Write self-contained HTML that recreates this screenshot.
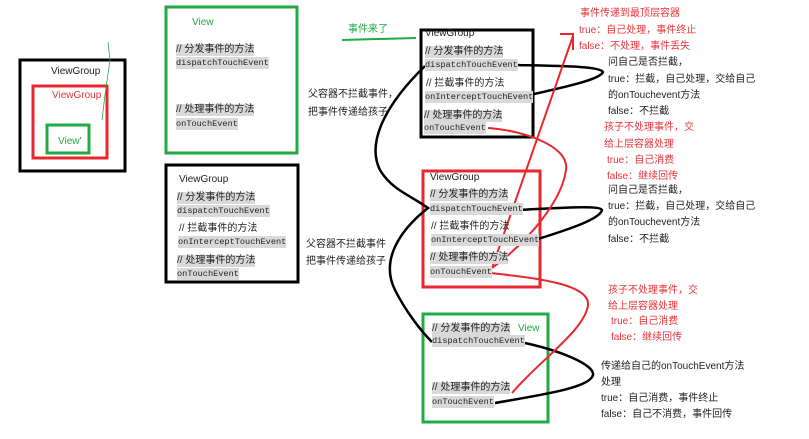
<!DOCTYPE html>
<html><head><meta charset="utf-8"><style>
body{margin:0;width:809px;height:439px;background:#fff;position:relative;overflow:hidden;font-family:"Liberation Sans","Noto Sans CJK SC",sans-serif;}
.t{position:absolute;font-size:10px;line-height:12px;white-space:nowrap;color:#222;}
.c{background:#d9d9d9;}
.m{font-family:"Liberation Mono","Noto Sans CJK SC",monospace;font-size:8.6px;}
.r{color:#e8333a;}
.g{color:#22aa44;}
svg{position:absolute;left:0;top:0;}
</style></head><body>
<svg width="809" height="439">
<g fill="none" stroke-width="3">
<rect x="20" y="60" width="105" height="111" stroke="#000"/>
<rect x="33" y="86" width="74" height="72" stroke="#e8282e"/>
<rect x="47" y="125" width="42" height="28" stroke="#22aa44"/>
<rect x="166" y="7" width="131" height="146" stroke="#22aa44"/>
<rect x="166" y="165" width="132" height="117" stroke="#000"/>
<rect x="421" y="30" width="112" height="107" stroke="#000"/>
<rect x="423" y="171" width="117" height="116" stroke="#e8282e"/>
<rect x="423" y="314" width="125" height="108" stroke="#22aa44"/>
</g>
<path d="M108 42 L110 60 L105 95 L102 120" stroke="#22aa44" stroke-width="0.8" fill="none"/>
<path d="M342 40 L416 38" stroke="#22aa44" stroke-width="2" fill="none"/>
<g fill="none" stroke="#000" stroke-width="2.5">
<path d="M425 66 C390 100 365 140 380 170 C392 190 410 195 428 208 C400 230 380 260 395 290 C405 310 420 330 432 342"/>
<path d="M512 65 C560 66 600 66 603 72 C600 80 560 88 530 95"/>
<path d="M518 210 C560 208 600 205 602 210 C600 220 560 232 535 240"/>
<path d="M520 342 C560 350 595 365 593 375 C590 388 540 395 495 403"/>
</g>
<g fill="none" stroke="#e8282e" stroke-width="2">
<path d="M492 268 L573 36"/>
<path d="M560 34 L573 34 L573 50"/>
<path d="M488 128 C520 130 570 145 566 170 C562 200 530 240 492 268"/>
<path d="M490 273 C540 278 590 285 588 305 C585 330 540 360 512 393"/>
</g>
</svg>
<div class="t" style="left:51px;top:66px">ViewGroup</div>
<div class="t r" style="left:52px;top:90px">ViewGroup</div>
<div class="t g" style="left:58px;top:136px">View'</div>
<div class="t g" style="left:192px;top:17px">View</div>
<div class="t c" style="left:176px;top:44px">// 分发事件的方法</div>
<div class="t c m" style="left:176px;top:57px">dispatchTouchEvent</div>
<div class="t c" style="left:176px;top:104px">// 处理事件的方法</div>
<div class="t c m" style="left:176px;top:118px">onTouchEvent</div>
<div class="t" style="left:179px;top:174px">ViewGroup</div>
<div class="t c" style="left:177px;top:192px">// 分发事件的方法</div>
<div class="t c m" style="left:177px;top:205px">dispatchTouchEvent</div>
<div class="t" style="left:179px;top:223px">// 拦截事件的方法</div>
<div class="t c m" style="left:178px;top:236px">onInterceptTouchEvent</div>
<div class="t c" style="left:177px;top:255px">// 处理事件的方法</div>
<div class="t c m" style="left:177px;top:268px">onTouchEvent</div>
<div class="t" style="left:308px;top:89px">父容器不拦截事件，</div>
<div class="t" style="left:308px;top:107px">把事件传递给孩子</div>
<div class="t" style="left:306px;top:239px">父容器不拦截事件</div>
<div class="t" style="left:306px;top:256px">把事件传递给孩子</div>
<div class="t g" style="left:348px;top:24px">事件来了</div>
<div class="t" style="left:425px;top:28px">ViewGroup</div>
<div class="t c" style="left:425px;top:46px">// 分发事件的方法</div>
<div class="t c m" style="left:425px;top:59px">dispatchTouchEvent</div>
<div class="t" style="left:426px;top:78px">// 拦截事件的方法</div>
<div class="t c m" style="left:425px;top:91px">onInterceptTouchEvent</div>
<div class="t c" style="left:424px;top:110px">// 处理事件的方法</div>
<div class="t c m" style="left:424px;top:122px">onTouchEvent</div>
<div class="t" style="left:430px;top:172px">ViewGroup</div>
<div class="t c" style="left:430px;top:189px">// 分发事件的方法</div>
<div class="t c m" style="left:430px;top:203px">dispatchTouchEvent</div>
<div class="t" style="left:431px;top:221px">// 拦截事件的方法</div>
<div class="t c m" style="left:431px;top:234px">onInterceptTouchEvent</div>
<div class="t c" style="left:430px;top:252px">// 处理事件的方法</div>
<div class="t c m" style="left:430px;top:266px">onTouchEvent</div>
<div class="t c" style="left:432px;top:323px">// 分发事件的方法</div>
<div class="t g" style="left:518px;top:323px">View</div>
<div class="t c m" style="left:432px;top:335px">dispatchTouchEvent</div>
<div class="t c" style="left:432px;top:382px">// 处理事件的方法</div>
<div class="t c m" style="left:432px;top:396px">onTouchEvent</div>
<div class="t r" style="left:580px;top:8px">事件传递到最顶层容器</div>
<div class="t r" style="left:579px;top:25px">true：自己处理，事件终止</div>
<div class="t r" style="left:579px;top:41px">false：不处理，事件丢失</div>
<div class="t" style="left:608px;top:57px">问自己是否拦截，</div>
<div class="t" style="left:608px;top:74px">true：拦截，自己处理，交给自己</div>
<div class="t" style="left:608px;top:90px">的onTouchevent方法</div>
<div class="t" style="left:608px;top:106px">false：不拦截</div>
<div class="t r" style="left:604px;top:122px">孩子不处理事件，交</div>
<div class="t r" style="left:604px;top:139px">给上层容器处理</div>
<div class="t r" style="left:607px;top:155px">true：自己消费</div>
<div class="t r" style="left:607px;top:171px">false：继续回传</div>
<div class="t" style="left:608px;top:185px">问自己是否拦截，</div>
<div class="t" style="left:608px;top:201px">true：拦截，自己处理，交给自己</div>
<div class="t" style="left:608px;top:217px">的onTouchevent方法</div>
<div class="t" style="left:608px;top:234px">false：不拦截</div>
<div class="t r" style="left:608px;top:285px">孩子不处理事件，交</div>
<div class="t r" style="left:608px;top:301px">给上层容器处理</div>
<div class="t r" style="left:611px;top:316px">true：自己消费</div>
<div class="t r" style="left:611px;top:332px">false：继续回传</div>
<div class="t" style="left:601px;top:361px">传递给自己的onTouchEvent方法</div>
<div class="t" style="left:601px;top:377px">处理</div>
<div class="t" style="left:601px;top:393px">true：自己消费，事件终止</div>
<div class="t" style="left:601px;top:409px">false：自己不消费，事件回传</div>
</body></html>
